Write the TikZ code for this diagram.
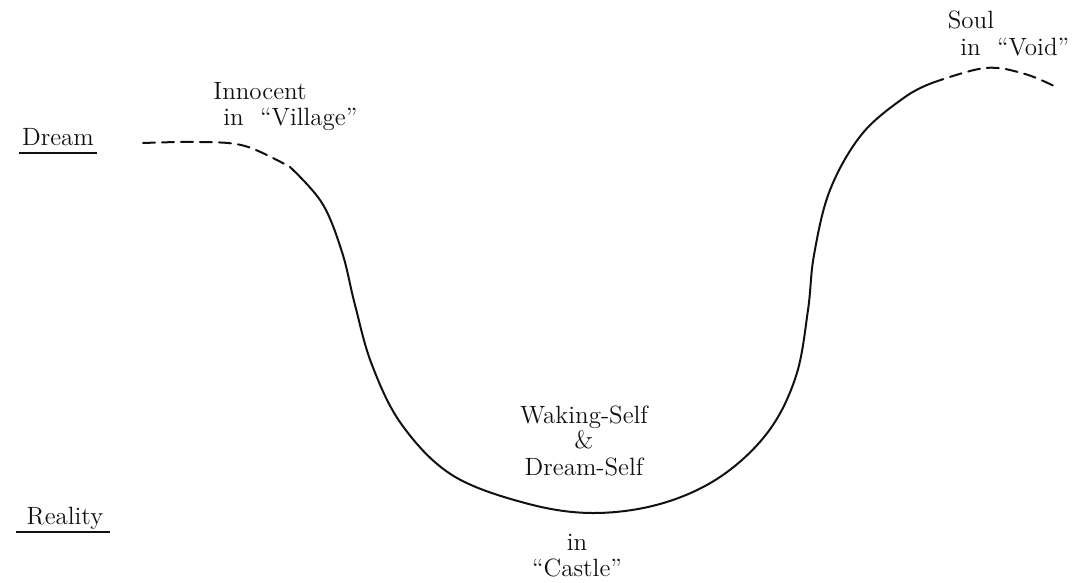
\documentclass[tikz,border=0pt]{standalone}
\usepackage{fontspec}
\usepackage{tikz}
\usetikzlibrary{positioning, calc}
\definecolor{ink}{HTML}{111111}

\begin{document}
\begin{tikzpicture}[
  x=0.5pt, y=-0.5pt,
  font=\fontsize{12.5}{13}\selectfont\addfontfeatures{LetterSpace=7}, text=ink,
  lbl/.style  ={anchor=base, inner sep=1pt},
  road/.style ={draw=ink, line width=1pt, line cap=round},
  haze/.style ={road, dash pattern=on 6pt off 3.5pt},
  rule/.style ={draw=ink, line width=0.9pt}
]
\useasboundingbox (0,0) rectangle (1087,583);

% the two levels on the left
\node[lbl] (dream) at (58,146) {Dream};
\node[lbl] (real)  at (65,524) {Reality};
\draw[rule] ($(dream.base west)+(-1,7)$) -- ($(dream.base east)+(1,7)$);
\draw[rule] ($(real.base west)+(-8,8)$) -- ($(real.base east)+(4,8)$);

% stations along the road
\node[lbl] (inno)  at (260,100) {Innocent};
\node[lbl, anchor=base west] (vill) at (221,126) {in\ \ ``Village''};
\node[lbl] (soul)  at (971,29)  {Soul};
\node[lbl, anchor=base west] (void) at (958,56) {in\ \ ``Void''};
\node[lbl] (wake)  at (584,423) {Waking-Self};
\node[lbl] (and)   at (584,448) {\&};
\node[lbl] (dself) at (584,475) {Dream-Self};
\node[lbl] (in)    at (577,550) {in};
\node[lbl] (cast)  at (577,576) {``Castle''};

% the road: dreaming, down into the waking world, up again
\draw[haze] plot[smooth, tension=0.6] coordinates
  {(143,143) (200,142) (245,146) (290,167)};
\draw[road] plot[smooth, tension=0.6] coordinates
  {(290,167) (322,203) (342,252) (355,305) (372,365) (402,425) (452,475)
   (525,503) (592,513) (660,504) (720,477) (768,432) (796,376) (808,310)
   (814,255) (830,190) (862,134) (905,97) (932,83)};
\draw[haze] plot[smooth, tension=0.6] coordinates
  {(932,83) (985,68) (1025,74) (1058,88)};
\end{tikzpicture}
\end{document}
